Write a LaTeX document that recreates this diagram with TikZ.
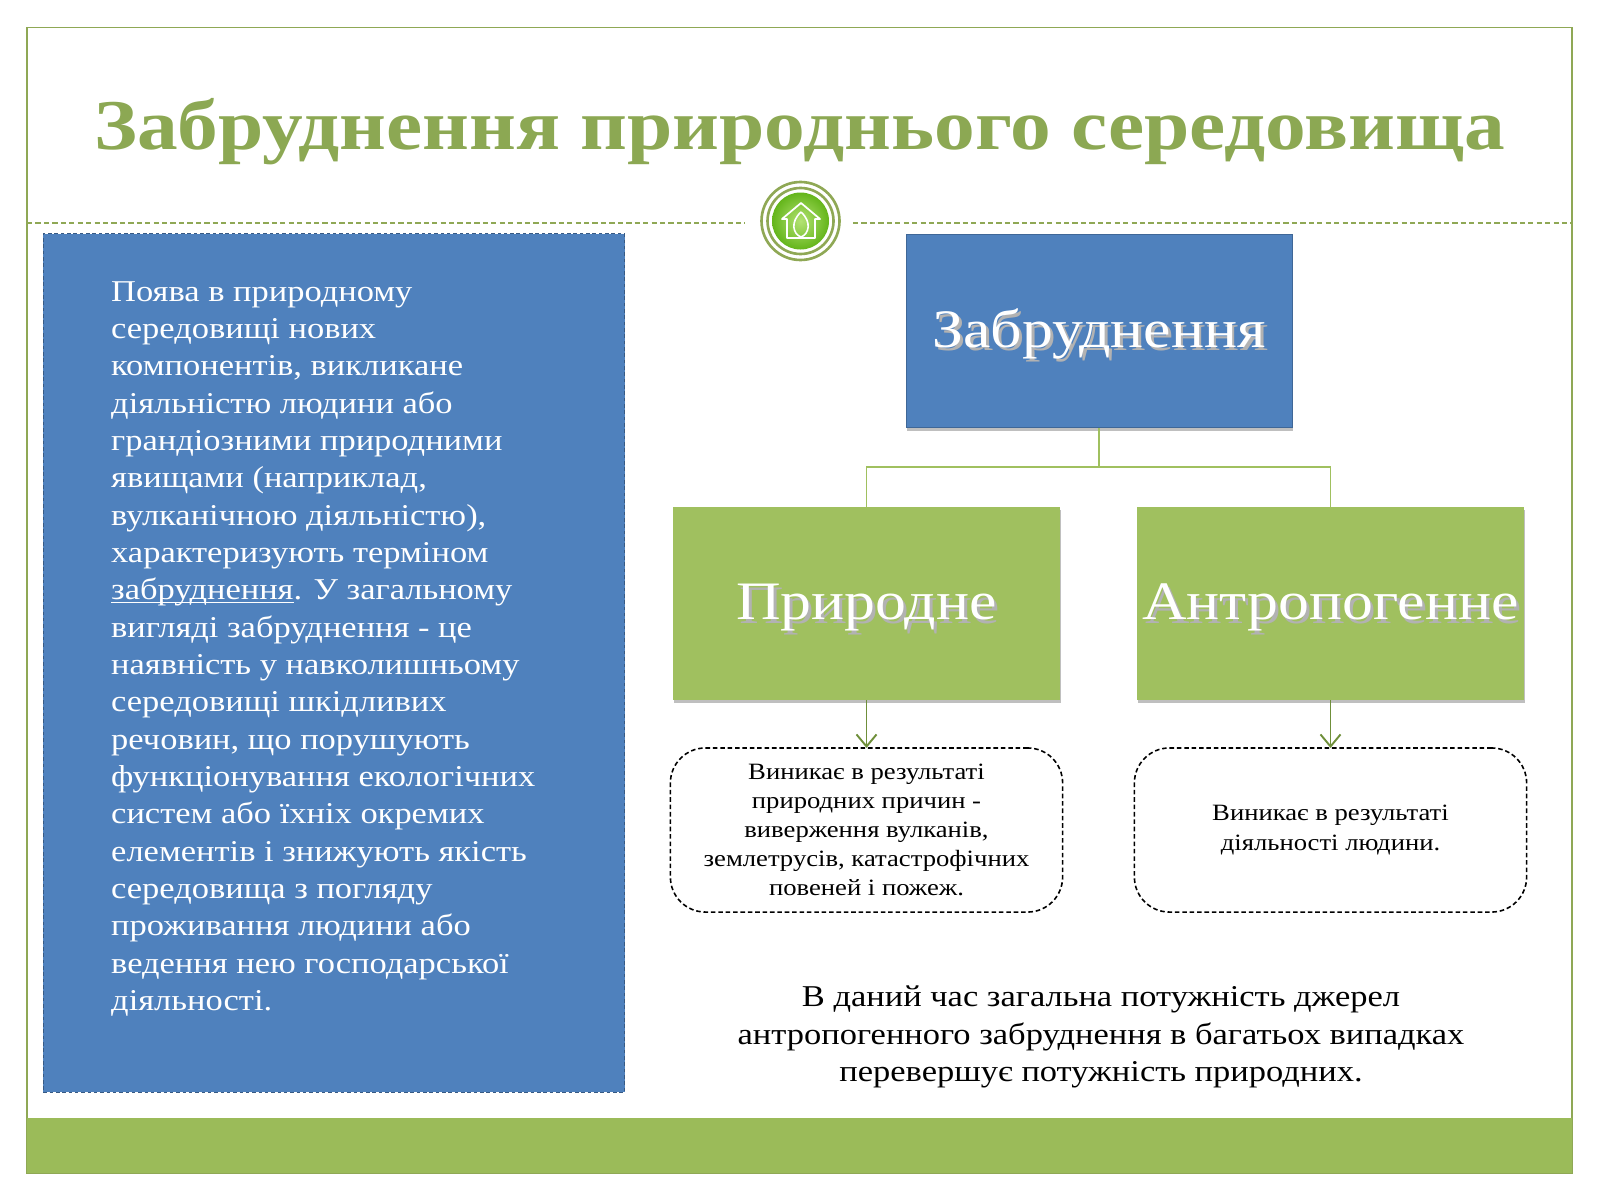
\documentclass[tikz,border=0pt]{standalone}
\usepackage{fontspec}
\setmainfont[FakeStretch=1.14]{Liberation Serif}
\usetikzlibrary{arrows.meta,shadows}
\definecolor{framegreen}{HTML}{8FA855}
\definecolor{titlegreen}{HTML}{8CA853}
\definecolor{barblue}{HTML}{4F81BD}
\definecolor{bargreen}{HTML}{9BBB59}
\definecolor{boxgreen}{HTML}{A0C05F}
\definecolor{arrowgreen}{HTML}{6F8F3A}
\newcommand{\softtext}[1]{\makebox[0pt][l]{\raisebox{-1pt}{\hspace{0.8pt}\textcolor{black!30}{#1}}}#1}
\newcommand{\lowline}[1]{\setbox0=\hbox{#1}\rlap{\rule[-1pt]{\wd0}{0.3pt}}\box0}
\tikzset{
	headbox/.style={minimum width=3.86cm,minimum height=1.93cm,inner sep=0pt,outer sep=0pt,text=white,
		text height=0.44cm,text depth=0.12cm,
		font=\fontsize{15.4}{20}\selectfont,drop shadow={shadow xshift=0.3pt,shadow yshift=-0.9pt,opacity=0.5}},
	notebox/.style={draw=black,dashed,dash pattern=on 1.3pt off 0.8pt,line width=0.45pt,rounded corners=0.35cm,minimum width=3.92cm,minimum height=1.64cm,
		inner sep=0pt,outer sep=0pt,align=center,font=\fontsize{6.65}{8.3}\selectfont},
	branch/.style={draw=boxgreen,line width=0.45pt},
	pointer/.style={draw=arrowgreen,line width=0.55pt,-{Straight Barb[length=1.2mm,width=2mm]}}
}
\begin{document}
\begin{tikzpicture}[x=0.01cm,y=-0.01cm]
	\useasboundingbox (0,0) rectangle (1600,1200);
	%\draw[help lines] (0,0) grid (1600,1200);
	\draw[framegreen,line width=0.45pt] (27,27.5) rectangle (1572,1173);
	\fill[bargreen] (27,1118) rectangle (1572,1173);
	\node (title) at (799.5,132) [text=titlegreen,inner sep=0pt,font=\fontsize{20.3}{24}\selectfont\bfseries] {Забруднення природнього середовища};
	% rule with the emblem
	\coordinate (ruleA) at (27,223);
	\coordinate (ruleB) at (745,223);
	\coordinate (ruleC) at (853,223);
	\coordinate (ruleD) at (1572,223);
	\draw[framegreen,line width=0.3pt,dashed,dash pattern=on 1.5pt off 0.9pt] (ruleA) -- (ruleB) (ruleC) -- (ruleD);
	\draw[framegreen,line width=0.75pt] (800.5,221) circle [radius=39];
	\draw[framegreen,line width=0.75pt] (800.5,221) circle [radius=33];
	\shade[inner color=green!30!lime!40!bargreen!70!white,outer color=green!50!black!60!lime!70!bargreen] (800.5,221) circle [radius=28.5];
	\draw[white,line width=0.5pt,line join=round] (787,238) -- (787,219) -- (782,219) -- (801,203) -- (820,219) -- (815,219) -- (815,238) -- cycle;
	\draw[white,line width=0.45pt] (801,212) .. controls (790,222) and (793,234) .. (801,237) .. controls (809,234) and (812,222) .. (801,212);
	% left panel
	\node (panel) at (334,663) [fill=barblue,preaction={draw=white,line width=0.4pt},draw=barblue!70!black,dashed,dash pattern=on 1pt off 0.8pt,line width=0.4pt,
		minimum width=5.81cm,minimum height=8.58cm,inner sep=0pt,outer sep=0pt] {};
	\node (panelText) at (110.5,280.5) [anchor=north west,inner sep=0pt,text=white,align=left,font=\fontsize{8.6}{10.62}\selectfont] {Поява в природному\\
		середовищі нових\\
		компонентів, викликане\\
		діяльністю людини або\\
		грандіозними природними\\
		явищами (наприклад,\\
		вулканічною діяльністю),\\
		характеризують терміном\\
		\lowline{забруднення}. У загальному\\
		вигляді забруднення - це\\
		наявність у навколишньому\\
		середовищі шкідливих\\
		речовин, що порушують\\
		функціонування екологічних\\
		систем або їхніх окремих\\
		елементів і знижують якість\\
		середовища з погляду\\
		проживання людини або\\
		ведення нею господарської\\
		діяльності.};
	% tree
	\node (pollution) at (1099,331) [headbox,fill=barblue,draw=barblue!80!black,line width=0.2pt] {\softtext{Забруднення}};
	\node (natural) at (866.5,603.5) [headbox,fill=boxgreen] {\softtext{Природне}};
	\node (human) at (1330.5,603.5) [headbox,fill=boxgreen] {\softtext{Антропогенне}};
	\coordinate (fork) at (1099,467);
	\draw[branch] (pollution.south) -- (fork) -| (natural.north);
	\draw[branch] (fork) -| (human.north);
	\node (naturalNote) at (866.5,830) [notebox] {Виникає в результаті\\ природних причин -\\ виверження вулканів,\\ землетрусів, катастрофічних\\ повеней і пожеж.};
	\node (humanNote) at (1330.5,830) [notebox] {Виникає в результаті\\ діяльності людини.};
	\draw[pointer] (natural.south) -- (naturalNote.north);
	\draw[pointer] (human.south) -- (humanNote.north);
	\node (summary) at (1101,1037) [inner sep=0pt,align=center,font=\fontsize{8.6}{10.67}\selectfont] {В даний час загальна потужність джерел\\ антропогенного забруднення в багатьох випадках\\ перевершує потужність природних.};
\end{tikzpicture}
\end{document}
